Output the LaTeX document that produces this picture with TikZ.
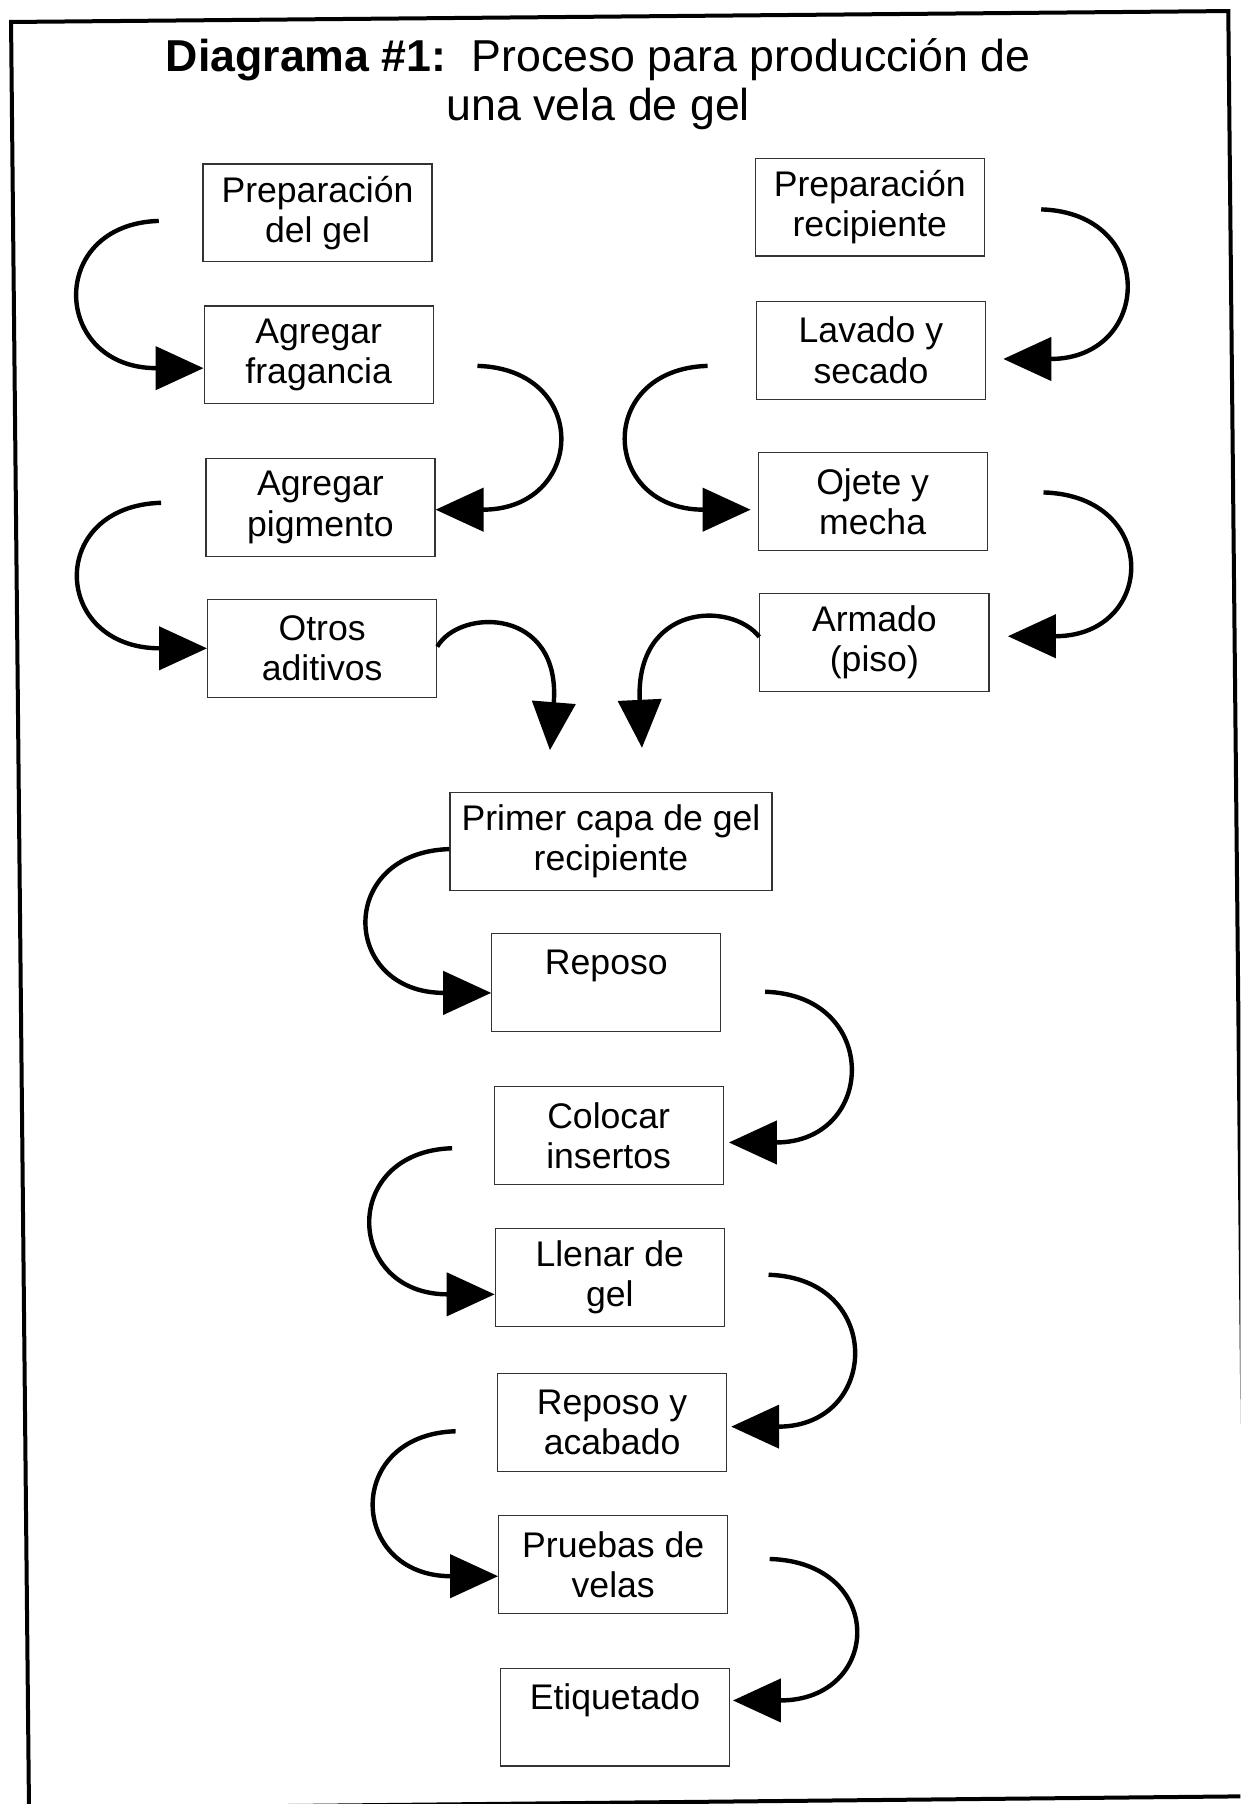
\documentclass[tikz,border=0pt]{standalone}
\usepackage{fontspec}
\setmainfont{Liberation Sans}
\usetikzlibrary{arrows.meta,calc}
\begin{document}
\begin{tikzpicture}[x=0.5752pt,y=-0.5752pt,
  box/.style={draw=black!80, line width=0.6pt, align=center, inner sep=0pt,
     minimum width=114.5pt, minimum height=48.9pt, font=\fontsize{17.8}{20.1}\selectfont},
  flow/.style={line width=2.2pt, -{Triangle[length=24pt,width=21.5pt]}},
  frame/.style={line width=2pt},
  titlefont/.style={anchor=base, inner sep=0pt, font=\fontsize{22.35}{25.3}\selectfont}]
\useasboundingbox (0,0) rectangle (1078,1568);
\clip (0,0) rectangle (1078,1568);
\draw[frame] (9.6,19.1) -- (1067.6,9.6) -- (1083.2,1561.3) -- (25.2,1572) -- cycle;

\node[titlefont] (t1) at (520,62) {\textbf{Diagrama \#1:}\ \ Proceso para producción de};
\node[titlefont] (t2) at (520,105) {una vela de gel};

\node[box] (b1) at (276,185) {Preparación\\del gel};
\node[box] (b2) at (277,308.5) {Agregar\\fragancia};
\node[box] (b3) at (278.5,441) {Agregar\\pigmento};
\node[box] (b4) at (280,563.5) {Otros\\aditivos};
\node[box] (b5) at (756,180) {Preparación\\recipiente};
\node[box] (b6) at (757,304.5) {Lavado y\\secado};
\node[box] (b7) at (758.5,436) {Ojete y\\mecha};
\node[box] (b8) at (760,558.5) {Armado\\(piso)};
\node[box,minimum width=161pt] (b9) at (531,731.5) {Primer capa de gel\\recipiente};
\node[box] (b10) at (527,854) {Reposo\\\mbox{}};
\node[box] (b11) at (529,987) {Colocar\\insertos};
\node[box] (b12) at (530,1110.5) {Llenar de\\gel};
\node[box] (b13) at (532,1236.5) {Reposo y\\acabado};
\node[box] (b14) at (533,1360) {Pruebas de\\velas};
\node[box] (b15) at (534.5,1492.5) {Etiquetado\\\mbox{}};

\coordinate (s1) at (138,192);
\coordinate (s2) at (415,318);
\coordinate (s3) at (140,437);
\coordinate (e4) at (478,652);
\coordinate (e5) at (558,650);
\coordinate (s6) at (905,182);
\coordinate (s7) at (615,318);
\coordinate (s8) at (907,428);
\coordinate (s10) at (665,862);
\coordinate (s11) at (393,998);
\coordinate (s12) at (668,1108);
\coordinate (s13) at (396,1244);
\coordinate (s14) at (669,1355);

\draw[flow] (s1) .. controls (40,195) and (45,320) .. ($(b2.west)+(0,11.5)$);
\draw[flow] (s2) .. controls (514,321) and (509,443) .. ($(b3.east)+(0,2)$);
\draw[flow] (s3) .. controls (40,440) and (45,563.5) .. (b4.west);
\draw[flow] ($(b4.east)+(0,-1.5)$) .. controls (400,528) and (488,528) .. (e4);
\draw[flow] ($(b8.west)+(0,-5)$) .. controls (635,522) and (552,525) .. (e5);
\draw[flow] (s6) .. controls (1006,185) and (1002,312) .. ($(b6.east)+(15,7.5)$);
\draw[flow] (s7) .. controls (517,321) and (522,443) .. ($(b7.west)+(-6,7)$);
\draw[flow] (s8) .. controls (1009,431) and (1005,553) .. ($(b8.east)+(16,-5.5)$);
\draw[flow] ($(b9.west)+(0,6.5)$) .. controls (292,741) and (296,863) .. ($(b10.west)+(0,9)$);
\draw[flow] (s10) .. controls (766,865) and (762,993) .. ($(b11.east)+(4.5,6)$);
\draw[flow] (s11) .. controls (295,1001) and (300,1125) .. ($(b12.west)+(0,14.5)$);
\draw[flow] (s12) .. controls (769,1111) and (765,1240) .. ($(b13.east)+(3.5,3.5)$);
\draw[flow] (s13) .. controls (298,1247) and (303,1370) .. ($(b14.west)+(0,10)$);
\draw[flow] (s14) .. controls (771,1358) and (767,1478) .. ($(b15.east)+(2.5,-14.5)$);
\end{tikzpicture}
\end{document}
